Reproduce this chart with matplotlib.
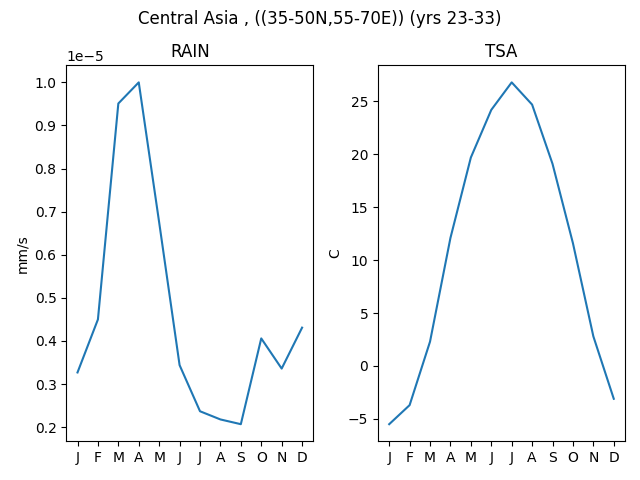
import matplotlib
matplotlib.use("Agg")
import matplotlib.pyplot as plt

months = ["J", "F", "M", "A", "M", "J", "J", "A", "S", "O", "N", "D"]
rain = [0.327e-5, 0.450e-5, 0.951e-5, 1.000e-5, 0.675e-5, 0.344e-5,
        0.237e-5, 0.218e-5, 0.207e-5, 0.406e-5, 0.336e-5, 0.431e-5]
tsa = [-5.5, -3.7, 2.3, 12.1, 19.7, 24.2, 26.8, 24.7, 19.1, 11.6, 2.8, -3.1]

fig, (ax1, ax2) = plt.subplots(1, 2, figsize=(6.4, 4.8))
fig.suptitle("Central Asia , ((35-50N,55-70E)) (yrs 23-33)")

x = range(len(months))
ax1.plot(x, rain)
ax1.set_title("RAIN")
ax1.set_ylabel("mm/s")
ax1.set_xticks(list(x))
ax1.set_xticklabels(months)

ax2.plot(x, tsa)
ax2.set_title("TSA")
ax2.set_ylabel("C")
ax2.set_xticks(list(x))
ax2.set_xticklabels(months)

plt.tight_layout()
fig.subplots_adjust(top=0.864)
plt.savefig("out.png", dpi=100)
